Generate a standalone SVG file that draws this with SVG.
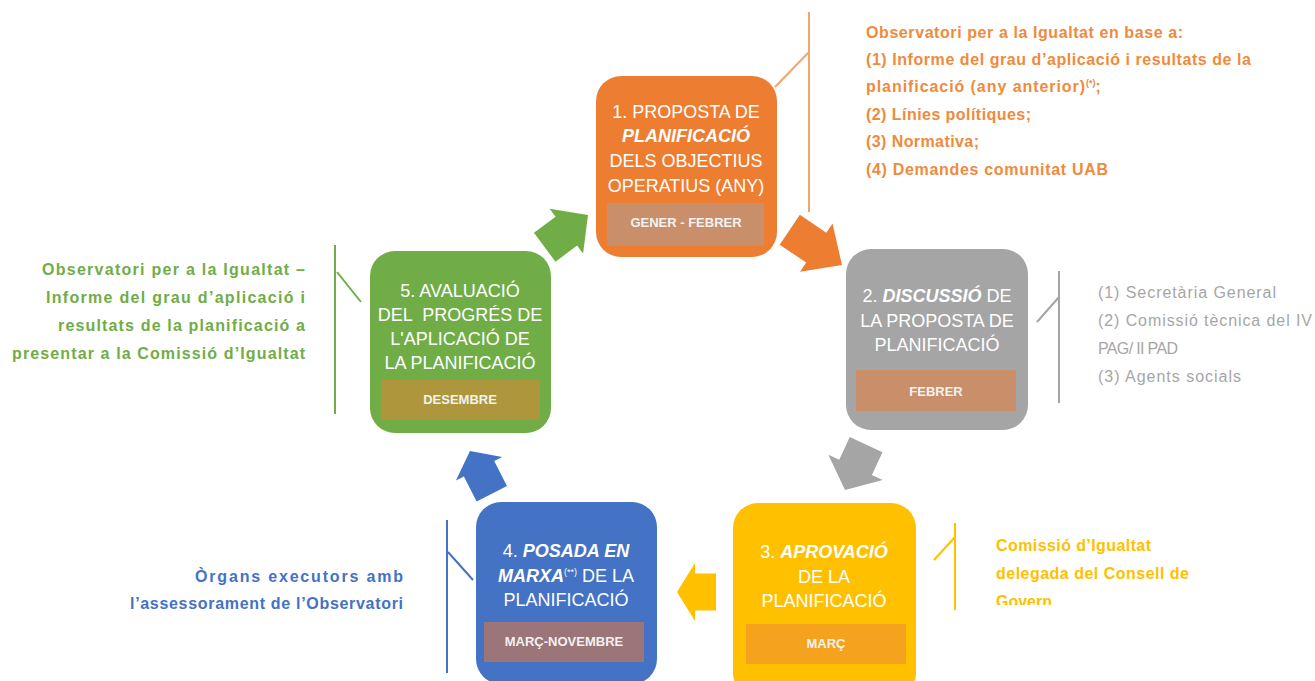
<svg xmlns="http://www.w3.org/2000/svg" width="1315" height="681" viewBox="0 0 1315 681">
<style>
.t{font-family:"Liberation Sans",Arial,sans-serif;font-size:18px;fill:#fff;text-anchor:middle}
.b{font-family:"Liberation Sans",Arial,sans-serif;font-size:13px;font-weight:bold;fill:#f2f2f2;text-anchor:middle}
.bi{font-weight:bold;font-style:italic}
.s{font-family:"Liberation Sans",Arial,sans-serif;font-size:16px;font-weight:bold}
.r{font-family:"Liberation Sans",Arial,sans-serif;font-size:16px}
.sup{font-size:9px}
.ln{fill:none;stroke-width:2}
</style>
<defs>
<clipPath id="clipY"><rect x="980" y="520" width="300" height="85"/></clipPath>
</defs>
<rect width="1315" height="681" fill="#fff"/>

<g id="connectors">
<polygon fill="#70AD47" transform="translate(588,215) rotate(-36.7)" points="0,0 -27,-28 -27,-18 -54,-18 -54,18 -27,18 -27,28"/>
<polygon fill="#ED7D31" transform="translate(842,265) rotate(34)" points="0,0 -31,-29 -31,-18 -63,-18 -63,18 -31,18 -31,29"/>
<polygon fill="#A5A5A5" transform="translate(845,490) rotate(115)" points="0,0 -25,-30 -25,-18 -50,-18 -50,18 -25,18 -25,30"/>
<polygon fill="#FFC000" transform="translate(677,592) rotate(180)" points="0,0 -18,-29 -18,-18.5 -39,-18.5 -39,18.5 -18,18.5 -18,29"/>
<polygon fill="#4472C4" transform="translate(470,451) rotate(243)" points="0,0 -20,-26 -20,-17 -48,-17 -48,17 -20,17 -20,26"/>
</g>

<g id="callout1">
<path class="ln" stroke="#F4A46D" d="M809,12 V212 M775,87 L809,52"/>
<g class="s" fill="#F08A3C">
<text x="866" y="38" textLength="317">Observatori per a la Igualtat en base a:</text>
<text x="866" y="65" textLength="385">(1) Informe del grau d’aplicació i resultats de la</text>
<text x="866" y="92"><tspan textLength="219">planificació (any anterior)</tspan><tspan class="sup" dy="-6">(*)</tspan><tspan dy="6">;</tspan></text>
<text x="866" y="120" textLength="165">(2) Línies polítiques;</text>
<text x="866" y="147" textLength="113">(3) Normativa;</text>
<text x="866" y="175" textLength="242">(4) Demandes comunitat UAB</text>
</g>
</g>

<g id="callout2">
<path class="ln" stroke="#A5A5A5" d="M1059,271 V403 M1037,322 L1059,297"/>
<g class="r" fill="#A6A6A6">
<text x="1098" y="298" textLength="178">(1) Secretària General</text>
<text x="1098" y="326" textLength="214">(2) Comissió tècnica del IV</text>
<text x="1098" y="354" textLength="80">PAG/ II PAD</text>
<text x="1098" y="382" textLength="143">(3) Agents socials</text>
</g>
</g>

<g id="callout3">
<path class="ln" stroke="#FFC000" d="M955,523 V610 M934,560 L955,537"/>
<g class="s" fill="#FFC000" clip-path="url(#clipY)">
<text x="996" y="551" textLength="155">Comissió d’Igualtat</text>
<text x="996" y="579" textLength="193">delegada del Consell de</text>
<text x="996" y="607" textLength="56">Govern</text>
</g>
</g>

<g id="callout4">
<path class="ln" stroke="#4472C4" d="M447,520 V673 M448,552 L473,580"/>
<g class="s" fill="#4472C4" text-anchor="end">
<text x="403" y="582" textLength="208">Òrgans executors amb</text>
<text x="403" y="609" textLength="273">l’assessorament de l’Observatori</text>
</g>
</g>

<g id="callout5">
<path class="ln" stroke="#70AD47" d="M335,245 V414 M337,272 L361,302"/>
<g class="s" fill="#70AD47" text-anchor="end">
<text x="305" y="275" textLength="263">Observatori per a la Igualtat –</text>
<text x="305" y="303" textLength="259">Informe del grau d’aplicació i</text>
<text x="305" y="331" textLength="247">resultats de la planificació a</text>
<text x="305" y="359" textLength="293">presentar a la Comissió d’Igualtat</text>
</g>
</g>

<g id="node1">
<rect x="596" y="76" width="181" height="181" rx="25" fill="#ED7D31"/>
<rect x="607" y="203" width="157" height="43" fill="#C98F6A"/>
<text class="t" x="686" y="118">1. PROPOSTA DE</text>
<text class="t bi" x="686" y="142">PLANIFICACIÓ</text>
<text class="t" x="686" y="167">DELS OBJECTIUS</text>
<text class="t" x="686" y="192">OPERATIUS (ANY)</text>
<text class="b" x="686" y="227">GENER - FEBRER</text>
</g>

<g id="node2">
<rect x="846" y="249" width="182" height="181" rx="25" fill="#A5A5A5"/>
<rect x="856" y="370" width="160" height="41" fill="#C98F6A"/>
<text class="t" x="937" y="302">2. <tspan class="bi">DISCUSSIÓ</tspan> DE</text>
<text class="t" x="937" y="327">LA PROPOSTA DE</text>
<text class="t" x="937" y="351">PLANIFICACIÓ</text>
<text class="b" x="936" y="396">FEBRER</text>
</g>

<g id="node3">
<rect x="733" y="503" width="183" height="195" rx="25" fill="#FFC000"/>
<rect x="746" y="624" width="160" height="40" fill="#F5A31F"/>
<text class="t" x="824" y="558">3. <tspan class="bi">APROVACIÓ</tspan></text>
<text class="t" x="824" y="583">DE LA</text>
<text class="t" x="824" y="607">PLANIFICACIÓ</text>
<text class="b" x="826" y="648">MARÇ</text>
</g>

<g id="node4">
<rect x="476" y="502" width="181" height="182" rx="25" fill="#4472C4"/>
<rect x="484" y="622" width="160" height="40" fill="#9C7578"/>
<text class="t" x="566" y="557">4. <tspan class="bi">POSADA EN</tspan></text>
<text class="t" x="566" y="582"><tspan class="bi">MARXA</tspan><tspan class="sup" dy="-7">(**)</tspan><tspan dy="7"> DE LA</tspan></text>
<text class="t" x="566" y="606">PLANIFICACIÓ</text>
<text class="b" x="564" y="646">MARÇ-NOVEMBRE</text>
</g>

<g id="node5">
<rect x="370" y="251" width="181" height="182" rx="25" fill="#70AD47"/>
<rect x="381" y="380" width="159" height="40" fill="#AE963C"/>
<text class="t" x="460" y="297">5. AVALUACIÓ</text>
<text class="t" x="460" y="321" style="white-space:pre">DEL  PROGRÉS DE</text>
<text class="t" x="460" y="345">L'APLICACIÓ DE</text>
<text class="t" x="460" y="369">LA PLANIFICACIÓ</text>
<text class="b" x="460" y="404">DESEMBRE</text>
</g>
</svg>
